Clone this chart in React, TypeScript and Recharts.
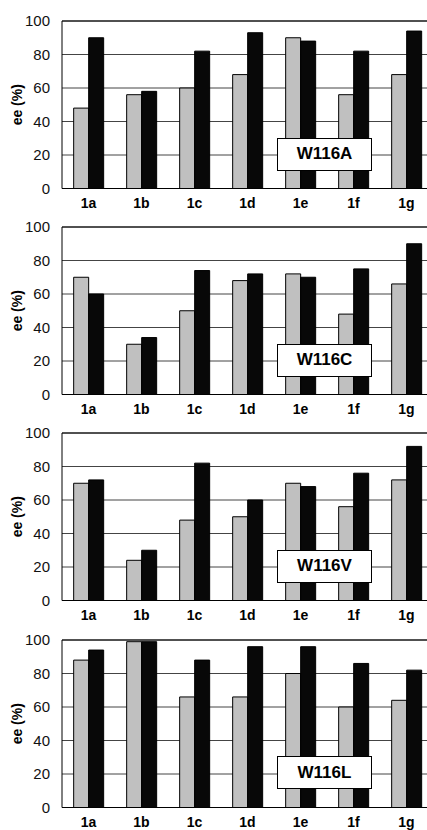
import { BarChart, Bar, XAxis, YAxis, CartesianGrid, ReferenceLine } from 'recharts';

const categories = ['1a', '1b', '1c', '1d', '1e', '1f', '1g'];
const yTicks = [0, 20, 40, 60, 80, 100];

const w116aGrey = [48, 56, 60, 68, 90, 56, 68];
const w116aBlack = [90, 58, 82, 93, 88, 82, 94];
const w116cGrey = [70, 30, 50, 68, 72, 48, 66];
const w116cBlack = [60, 34, 74, 72, 70, 75, 90];
const w116vGrey = [70, 24, 48, 50, 70, 56, 72];
const w116vBlack = [72, 30, 82, 60, 68, 76, 92];
const w116lGrey = [88, 99, 66, 66, 80, 60, 64];
const w116lBlack = [94, 99, 88, 96, 96, 86, 82];

const panels = [
  { label: 'W116A', grey: w116aGrey, black: w116aBlack },
  { label: 'W116C', grey: w116cGrey, black: w116cBlack },
  { label: 'W116V', grey: w116vGrey, black: w116vBlack },
  { label: 'W116L', grey: w116lGrey, black: w116lBlack },
];

const font = '"Liberation Sans", Arial, sans-serif';
const PANEL_STEP = 206.2;
const TOP = 21;

function Panel({ grey, black }: { grey: number[]; black: number[] }) {
  const data = categories.map((c, i) => ({ name: c, grey: grey[i], black: black[i] }));
  return (
    <BarChart
      width={433}
      height={240}
      data={data}
      margin={{ top: TOP, right: 0, bottom: 21.5, left: 0 }}
      barCategoryGap="22%"
      barGap={0}
    >
      <CartesianGrid vertical={false} stroke="#444" strokeWidth={1} />
      <ReferenceLine y={100} stroke="#000" strokeWidth={1} />
      <XAxis
        dataKey="name"
        height={30}
        axisLine={{ stroke: '#000', strokeWidth: 1 }}
        tickLine={false}
        tickSize={0}
        tickMargin={10}
        interval={0}
        tick={{ fill: '#000', fontSize: 14, fontWeight: 'bold', fontFamily: font }}
      />
      <YAxis
        width={62}
        domain={[0, 100]}
        ticks={yTicks}
        interval={0}
        axisLine={{ stroke: '#000', strokeWidth: 1 }}
        tickLine={false}
        tickSize={0}
        tickMargin={12}
        tick={{ fill: '#111', fontSize: 15, fontFamily: font }}
        label={{
          value: 'ee (%)',
          angle: -90,
          position: 'insideLeft',
          offset: 17,
          style: { fill: '#000', fontSize: 14, fontWeight: 'bold', fontFamily: font, textAnchor: 'middle' },
        }}
      />
      <Bar dataKey="grey" fill="#c0c0c0" stroke="#000" strokeWidth={1} isAnimationActive={false} />
      <Bar dataKey="black" fill="#080808" stroke="#000" strokeWidth={1} isAnimationActive={false} />
    </BarChart>
  );
}

export default function App() {
  return (
    <div
      style={{
        position: 'absolute',
        left: 0,
        top: 0,
        width: 427,
        height: 830,
        overflow: 'hidden',
        background: '#fff',
      }}
    >
      {panels.map((p, i) => (
        <div key={p.label} style={{ position: 'absolute', left: 0, top: i * PANEL_STEP, width: 433, height: 240 }}>
          <Panel grey={p.grey} black={p.black} />
          <div
            style={{
              position: 'absolute',
              left: 277,
              top: TOP + 116.5,
              width: 95,
              height: 33,
              boxSizing: 'border-box',
              border: '1.5px solid #000',
              background: '#fff',
              display: 'flex',
              alignItems: 'center',
              justifyContent: 'center',
              fontFamily: font,
              fontWeight: 'bold',
              fontSize: 17,
              color: '#000',
            }}
          >
            {p.label}
          </div>
        </div>
      ))}
    </div>
  );
}
